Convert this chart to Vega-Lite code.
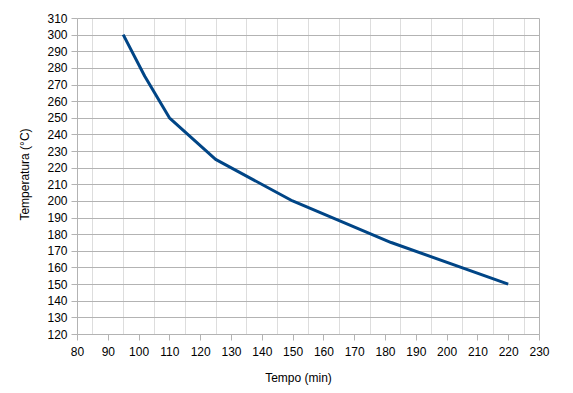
{
  "$schema": "https://vega.github.io/schema/vega-lite/v6.json",
  "autosize": "none",
  "width": 462,
  "height": 316,
  "padding": {"left": 77, "top": 18, "right": 34, "bottom": 59},
  "background": "white",
  "config": {
    "view": {"stroke": null},
    "font": "Liberation Sans",
    "axis": {"labelFont": "Liberation Sans", "titleFont": "Liberation Sans", "labelFontSize": 12, "titleFontSize": 12, "titleFontWeight": "normal", "labelColor": "#000000", "titleColor": "#000000"}
  },
  "data": {
    "values": [
      {"tempo": 95, "temp": 300},
      {"tempo": 102, "temp": 275},
      {"tempo": 110, "temp": 250},
      {"tempo": 125, "temp": 225},
      {"tempo": 150, "temp": 200},
      {"tempo": 182, "temp": 175},
      {"tempo": 220, "temp": 150}
    ]
  },
  "mark": {"type": "line", "color": "#004586", "strokeWidth": 3, "strokeCap": "butt", "strokeJoin": "round"},
  "encoding": {
    "x": {
      "field": "tempo", "type": "quantitative",
      "scale": {"domain": [80, 230], "nice": false, "zero": false},
      "axis": {
        "title": "Tempo (min)",
        "values": [80,85,90,95,100,105,110,115,120,125,130,135,140,145,150,155,160,165,170,175,180,185,190,195,200,205,210,215,220,225,230],
        "labelExpr": "datum.value % 10 === 0 ? datum.label : ''",
        "grid": true,
        "gridColor": {"condition": {"test": "datum.value === 230", "value": "#b3b3b3"}, "value": "#dddddd"},
        "gridOpacity": {"condition": {"test": "datum.value % 10 === 0 && datum.value !== 230", "value": 0}, "value": 1},
        "tickOpacity": {"condition": {"test": "datum.value % 10 !== 0", "value": 0}, "value": 1},
        "tickColor": "#b3b3b3",
        "tickSize": 6,
        "domainColor": "#b3b3b3",
        "labelPadding": 6,
        "labelFlush": false,
        "labelOverlap": false,
        "titlePadding": 15,
        "titleX": 221
      }
    },
    "y": {
      "field": "temp", "type": "quantitative",
      "scale": {"domain": [120, 310], "nice": false, "zero": false},
      "axis": {
        "title": "Temperatura (°C)",
        "values": [120,130,140,150,160,170,180,190,200,210,220,230,240,250,260,270,280,290,300,310],
        "grid": true,
        "gridColor": "#b3b3b3",
        "tickColor": "#b3b3b3",
        "tickSize": 6,
        "domainColor": "#b3b3b3",
        "labelPadding": 4,
        "labelFlush": false,
        "labelOverlap": false,
        "titlePadding": 15,
        "titleY": 156
      }
    }
  }
}
